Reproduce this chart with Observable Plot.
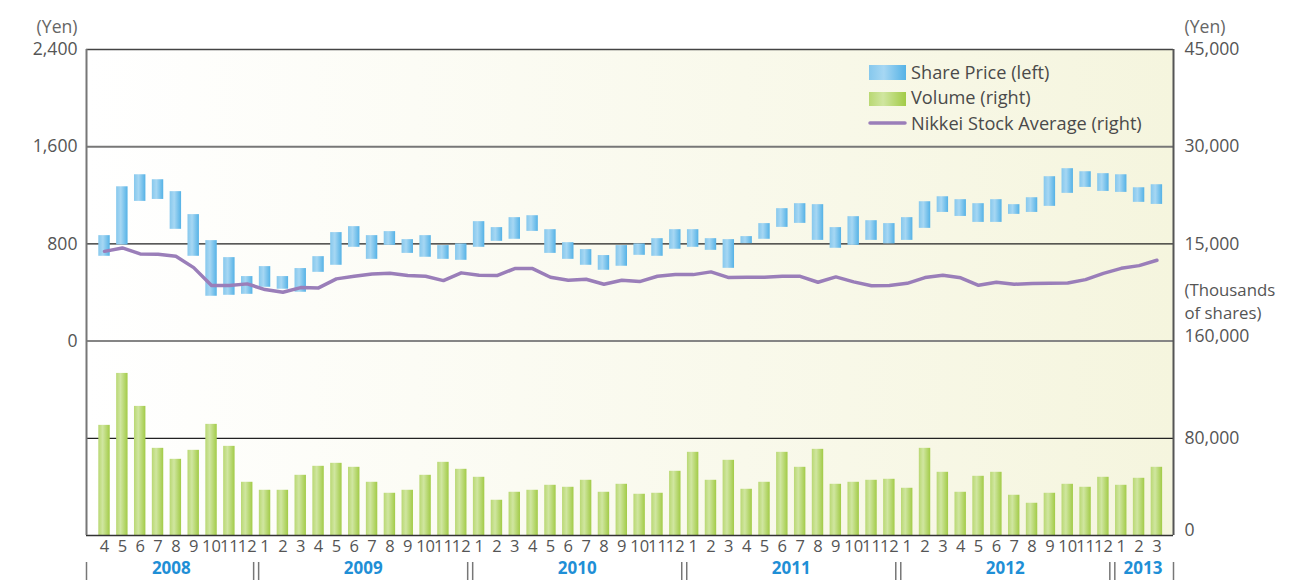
<!DOCTYPE html>
<html><head><meta charset="utf-8">
<script src="https://cdn.jsdelivr.net/npm/d3@7"></script>
<script src="https://cdn.jsdelivr.net/npm/@observablehq/plot@0.6"></script>
<style>html,body{margin:0;padding:0;background:#fff;overflow:hidden}</style>
</head><body><div id="chart"></div>
<script>
// ---- data (April 2008 – March 2013) ----
const monthLabels = ["4","5","6","7","8","9","10","11","12",
  "1","2","3","4","5","6","7","8","9","10","11","12",
  "1","2","3","4","5","6","7","8","9","10","11","12",
  "1","2","3","4","5","6","7","8","9","10","11","12",
  "1","2","3","4","5","6","7","8","9","10","11","12",
  "1","2","3"];
const priceHigh = [868,1270,1369,1328,1230,1041,827,687,531,
  613,531,597,695,893,942,868,901,835,868,786,800,
  983,934,1016,1032,917,810,753,704,786,800,843,917,
  917,843,835,860,967,1090,1131,1123,934,1024,991,967,
  1016,1147,1188,1164,1131,1164,1123,1180,1353,1419,1394,1378,
  1369,1262,1287];
const priceLow = [698,791,1150,1166,920,698,369,377,385,
  443,427,402,566,624,772,673,788,722,690,673,665,
  772,821,838,903,722,673,624,583,616,706,698,756,
  772,747,599,802,838,936,969,829,764,788,829,800,
  829,928,1059,1026,977,977,1043,1059,1109,1216,1265,1232,
  1224,1142,1125];
const nikkei = [13850,14380,13450,13390,13080,11340,8570,8570,8830,
  7950,7540,8260,8210,9600,10000,10370,10460,10110,10000,9340,10530,
  10160,10110,11190,11190,9850,9390,9540,8770,9390,9180,10000,10260,
  10260,10680,9800,9850,9850,10000,10000,9080,9910,9140,8540,8570,
  8920,9800,10160,9760,8610,9080,8770,8880,8920,8980,9490,10460,
  11230,11650,12470];
const volume = [90650,133400,106260,71740,62700,70100,91470,73380,43800,
  37220,37220,49550,56950,59410,56130,43800,34760,37220,49550,60230,54480,
  47910,29010,35580,37220,41330,39690,45440,35580,42150,33940,34760,52840,
  68460,45440,61880,38050,43800,68460,56130,70920,42150,43800,45440,46270,
  38870,71740,52020,35580,48730,52020,33120,26540,34760,42150,39690,47910,
  41330,47090,56130];
const yearLabels = ["2008","2009","2010","2011","2012","2013"];
const leftTicks = [0, 800, 1600, 2400];
const nikkeiTicks = [15000, 30000, 45000];
const volumeTicks = [0, 80000, 160000];
const legendLabels = ["Share Price (left)", "Volume (right)", "Nikkei Stock Average (right)"];
const volumeUnitLines = ["(Thousands", "of shares)"];

// ---- shared vertical coordinate (left-axis yen units) ----
const PRICE_MAX = 2400, NIKKEI_MAX = 45000, VOL_MAX = 160000, VOL_SPAN = 1600;
const nk = v => v * PRICE_MAX / NIKKEI_MAX;
const vol = v => v * VOL_SPAN / VOL_MAX - VOL_SPAN;

const data = monthLabels.map((m, i) => ({i, month: m, high: priceHigh[i], low: priceLow[i],
  nikkei: nikkei[i], volume: volume[i]}));

const xDomain = [-1.01, 59.93];
const HALF = 0.32;
const seps = data.filter(d => d.month === "1").map(d => d.i - 0.5);
const bounds = [xDomain[0], ...seps, xDomain[1]];
const years = yearLabels.map((y, k) => ({label: y, x: (bounds[k] + bounds[k + 1]) / 2}));

const fmt = d3.format(",");
const rightMain = [
  ...nikkeiTicks.map(v => ({y: nk(v), label: fmt(v)})),
  {y: vol(volumeTicks[1]), label: fmt(volumeTicks[1])}
];
const rightRaised = [volumeTicks[0], volumeTicks[2]].map(v => ({y: vol(v), label: fmt(v)}));

const defs = () => {
  const g = d3.create("svg:defs");
  const add = (id, stops) => {
    const lg = g.append("linearGradient").attr("id", id);
    stops.forEach(([o, c]) => lg.append("stop").attr("offset", o).attr("stop-color", c));
  };
  add("gBlue", [["0%", "#86c8ed"], ["40%", "#a6d7f3"], ["100%", "#55b2e6"]]);
  add("gGreen", [["0%", "#b9d873"], ["38%", "#d0e6a0"], ["100%", "#a2cb47"]]);
  add("gBg", [["0%", "#ffffff"], ["100%", "#f5f5de"]]);
  return g.node();
};

const legend = (index, scales, values, dims) => {
  const g = d3.create("svg:g").attr("font-family", "Open Sans").attr("font-size", 18.2)
    .attr("fill", "#4a4a4a").attr("text-anchor", "start");
  const x0 = dims.width - dims.marginRight - 304;
  const y0 = dims.marginTop + 16;
  g.append("rect").attr("x", x0).attr("y", y0).attr("width", 37).attr("height", 15).attr("fill", "url(#gBlue)");
  g.append("rect").attr("x", x0).attr("y", y0 + 27).attr("width", 37).attr("height", 14).attr("fill", "url(#gGreen)");
  g.append("line").attr("x1", x0 + 1).attr("x2", x0 + 36).attr("y1", y0 + 58).attr("y2", y0 + 58)
    .attr("stroke", "#9a7eb9").attr("stroke-width", 3.5).attr("stroke-linecap", "round");
  legendLabels.forEach((t, k) => {
    g.append("text").attr("x", x0 + 42).attr("y", y0 + 7.5 + k * 25.5).attr("dy", "0.35em")
      .attr("text-anchor", "start").text(t);
  });
  return g.node();
};

const plot = Plot.plot({
  width: 1316,
  height: 581,
  marginTop: 49,
  marginBottom: 46,
  marginLeft: 86,
  marginRight: 143,
  style: {fontFamily: "Open Sans", fontSize: "17.6px", color: "#555", background: "#fff", overflow: "visible"},
  x: {type: "linear", domain: xDomain, axis: null},
  y: {domain: [-VOL_SPAN, PRICE_MAX], axis: null},
  marks: [
    defs,
    Plot.frame({fill: "url(#gBg)", stroke: null}),
    Plot.ruleY([vol(80000)], {stroke: "#222", strokeWidth: 1.2}),
    Plot.ruleY([800], {stroke: "#222", strokeWidth: 1.2}),
    Plot.rectY(data, {x1: d => d.i - HALF, x2: d => d.i + HALF, y1: d => vol(0), y2: d => vol(d.volume), fill: "url(#gGreen)"}),
    Plot.rectY(data, {x1: d => d.i - HALF, x2: d => d.i + HALF, y1: "low", y2: "high", fill: "url(#gBlue)"}),
    Plot.line(data, {x: "i", y: d => nk(d.nikkei), stroke: "#9a7eb9", strokeWidth: 3.5, strokeLinejoin: "round"}),
    Plot.ruleY([1600], {stroke: "#777", strokeWidth: 2}),
    Plot.ruleY([0], {stroke: "#858585", strokeWidth: 2}),
    Plot.ruleY([PRICE_MAX], {stroke: "#444", strokeWidth: 1.5}),
    Plot.ruleY([vol(0)], {stroke: "#333", strokeWidth: 1.5}),
    Plot.ruleX([xDomain[0]], {stroke: "#777", strokeWidth: 2}),
    Plot.ruleX([xDomain[1]], {stroke: "#555", strokeWidth: 2}),
    legend,
    // left axis
    Plot.text(leftTicks, {y: d => d, text: d => fmt(d), frameAnchor: "left", textAnchor: "end", dx: -9, fill: "#555"}),
    Plot.text(["(Yen)"], {text: d => d, frameAnchor: "top-left", textAnchor: "end", dx: -9, dy: -29, fill: "#666"}),
    // right axis
    Plot.text(rightMain, {y: "y", text: "label", frameAnchor: "right", textAnchor: "start", dx: 11, fill: "#555"}),
    Plot.text(rightRaised, {y: "y", text: "label", frameAnchor: "right", textAnchor: "start", dx: 11, dy: -5, fill: "#555"}),
    Plot.text(["(Yen)"], {text: d => d, frameAnchor: "top-right", textAnchor: "start", dx: 11, dy: -29, fill: "#666"}),
    Plot.text([volumeUnitLines[0]], {y: vol(VOL_MAX), text: d => d, frameAnchor: "right", textAnchor: "start", dx: 11, dy: -50, fontSize: 16.8, fill: "#555"}),
    Plot.text([volumeUnitLines[1]], {y: vol(VOL_MAX), text: d => d, frameAnchor: "right", textAnchor: "start", dx: 11, dy: -27, fontSize: 16.8, fill: "#555"}),
    // month / year labels
    Plot.text(data, {x: "i", text: "month", frameAnchor: "bottom", dy: 16, fontSize: 16.5, fill: "#555"}),
    Plot.text(years, {x: "x", text: "label", frameAnchor: "bottom", dy: 38, fontSize: 17, fontWeight: "bold", fill: "#1f8fd6"}),
    Plot.ruleX(seps, {x: d => d, dx: -2.5, insetTop: 513, insetBottom: -45, stroke: "#777", strokeWidth: 1.5}),
    Plot.ruleX(seps, {x: d => d, dx: 2.5, insetTop: 513, insetBottom: -45, stroke: "#777", strokeWidth: 1.5}),
    Plot.ruleX(xDomain, {x: d => d, insetTop: 513, insetBottom: -45, stroke: "#777", strokeWidth: 1.5})
  ]
});
document.getElementById("chart").appendChild(plot);
</script>
</body></html>
